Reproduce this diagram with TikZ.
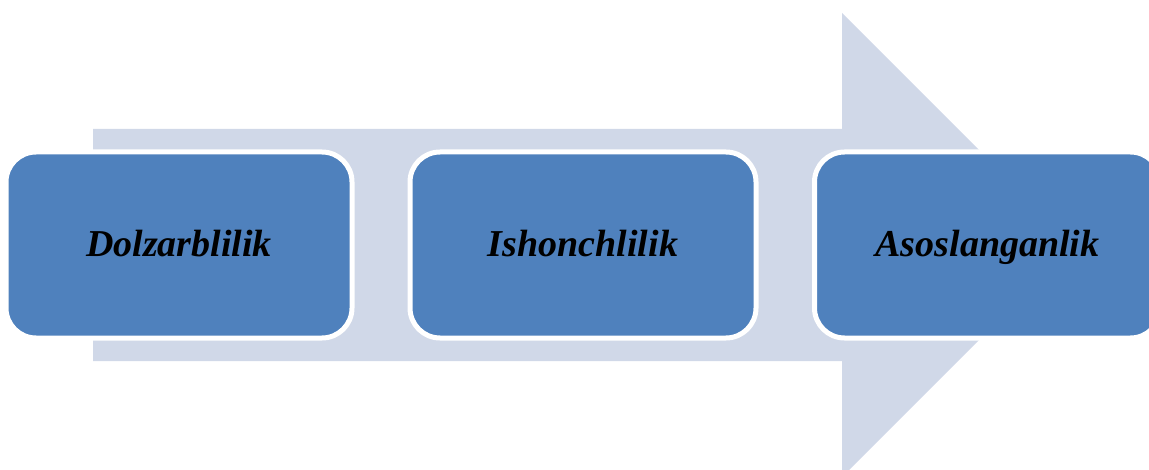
\documentclass[tikz,border=0pt]{standalone}
\usepackage{fontspec}
\setmainfont{Liberation Serif}
\definecolor{boxblue}{HTML}{4F81BD}
\definecolor{arrowgray}{HTML}{D0D8E8}
\begin{document}
\begin{tikzpicture}[x=0.75pt,y=-0.75pt,
  stagebox/.style={draw=white, line width=3.75pt, fill=boxblue, rounded corners=22.5pt,
    minimum width=259.5pt, minimum height=139.5pt, inner sep=0pt},
  stagelabel/.style={font=\fontsize{28.5}{34}\selectfont\bfseries\itshape, text=black,
    anchor=base, inner sep=0pt}]
\useasboundingbox (0,0) rectangle (1149,470);
\clip (0,0) rectangle (1149,470);
\fill[arrowgray] (93,129) -- (842,129) -- (842,13) -- (1074,245) -- (842,477) -- (842,361) -- (93,361) -- cycle;
\node[stagebox] (b1) at (179,245) {};
\node[stagebox] (b2) at (583,245) {};
\node[stagebox] (b3) at (987.5,245) {};
\node[stagelabel] (t1) at ([yshift=-9pt]b1.center) {Dolzarblilik};
\node[stagelabel] (t2) at ([yshift=-9pt]b2.center) {Ishonchlilik};
\node[stagelabel] (t3) at ([yshift=-9pt]b3.center) {Asoslanganlik};
\end{tikzpicture}
\end{document}
